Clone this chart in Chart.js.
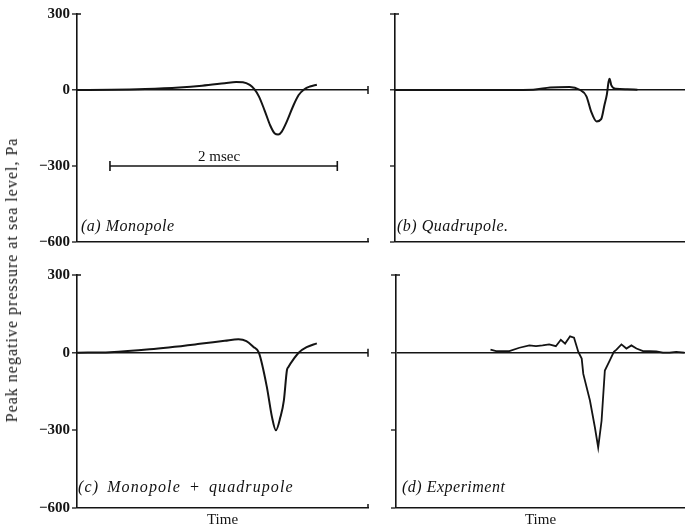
<!DOCTYPE html>
<html><head><meta charset="utf-8">
<script src="https://cdn.jsdelivr.net/npm/chart.js@4.4.1/dist/chart.umd.min.js"></script>
<style>
html,body{margin:0;padding:0;background:#fff;}
body{width:685px;height:530px;position:relative;overflow:hidden;font-family:"Liberation Serif","DejaVu Serif",serif;color:#111;}
canvas{position:absolute;}
.t{position:absolute;white-space:nowrap;font-size:15px;line-height:16px;}
.it{font-style:italic;font-size:16px;letter-spacing:0.5px;}
.yt{font-size:16px;letter-spacing:1px;}
</style></head><body>
<canvas id="ca" width="380" height="260" style="left:0;top:0"></canvas>
<canvas id="cb" width="365" height="260" style="left:320px;top:0"></canvas>
<canvas id="cc" width="380" height="270" style="left:0;top:260px"></canvas>
<canvas id="cd" width="365" height="270" style="left:320px;top:260px"></canvas>
<div class="t yt" style="left:12px;top:280px;transform:translate(-50%,-50%) rotate(-90deg);transform-origin:center;">Peak negative pressure at sea level, Pa</div>
<div class="t" style="left:198px;top:148px;">2 msec</div>
<div class="t it" style="left:81px;top:218px;">(a) Monopole</div>
<div class="t it" style="left:397px;top:218px;">(b) Quadrupole.</div>
<div class="t it" style="left:78px;top:479px;letter-spacing:1.1px;word-spacing:3px;">(c) Monopole + quadrupole</div>
<div class="t it" style="left:402px;top:479px;">(d) Experiment</div>
<script>
// ---- data (time in msec, pressure in Pa) ----
const yTickValues = [300, 0, -300, -600];
const yTickLabels = ['300', '0', '\u2212300', '\u2212600'];
const xMax = 2.56;

const monoT = [0, 0.3, 0.6, 0.9, 1.1, 1.3, 1.40, 1.46, 1.52, 1.56, 1.60, 1.65, 1.70, 1.74, 1.77, 1.80, 1.85, 1.90, 1.95, 2.00, 2.05, 2.11];
const monoP = [0, 1, 4, 10, 17, 27, 32, 31, 20, 3, -25, -80, -140, -172, -176, -165, -120, -65, -20, 3, 14, 21];

const quadT = [0, 0.6, 1.0, 1.22, 1.37, 1.54, 1.63, 1.69, 1.73, 1.78, 1.82, 1.85, 1.87, 1.886, 1.894, 1.91, 1.95, 2.05, 2.14];
const quadP = [0, 0, 0, 1, 10, 12, 1, -25, -83, -124, -115, -57, -18, 34, 44, 18, 5, 3, 1];

const comboT = [0, 0.29, 0.64, 1.08, 1.30, 1.42, 1.49, 1.55, 1.60, 1.67, 1.715, 1.75, 1.79, 1.82, 1.847, 1.86, 1.91, 1.95, 2.02, 2.11];
const comboP = [0, 2, 13, 34, 46, 52, 45, 23, 0, -132, -248, -300, -248, -184, -67, -55, -22, 0, 21, 36];

const expT = [0.837, 0.887, 1.004, 1.093, 1.181, 1.24, 1.298, 1.357, 1.416, 1.46, 1.498, 1.542, 1.577, 1.615, 1.645, 1.659, 1.718, 1.762, 1.791, 1.821, 1.85, 1.894, 1.93, 1.953, 1.997, 2.041, 2.085, 2.13, 2.188, 2.247, 2.306, 2.364, 2.423, 2.482, 2.555];
const expP = [12, 6, 6, 19, 28, 25, 28, 32, 25, 50, 35, 63, 58, 3, -23, -82, -185, -289, -366, -263, -69, -30, 3, 12, 32, 16, 28, 16, 6, 6, 5, 0, 0, 3, 0];

const scaleBarT = [0.29, 2.29];
const scaleBarP = [-300, -300];

// ---- helpers ----
const pts = (t, p) => t.map((v, i) => ({x: v, y: p[i]}));
const INK = '#141414';
const FONT = '"Liberation Serif","DejaVu Serif",serif';

const endTicks = {
  id: 'endTicks',
  afterDraw(chart, args, opts) {
    const {ctx, chartArea: a, scales} = chart;
    ctx.save();
    ctx.strokeStyle = INK;
    ctx.lineWidth = 1.5;
    ctx.beginPath();
    ctx.moveTo(a.left, a.top); ctx.lineTo(a.left + 4, a.top);
    if (opts.right) {
      const y0 = scales.y.getPixelForValue(0);
      ctx.moveTo(a.right, y0 - 4); ctx.lineTo(a.right, y0 + 4);
      ctx.moveTo(a.right, a.bottom); ctx.lineTo(a.right, a.bottom - 4);
    }
    ctx.stroke();
    ctx.restore();
  }
};

function makeChart(id, datasets, o) {
  return new Chart(document.getElementById(id), {
    type: 'line',
    data: {datasets},
    plugins: [endTicks],
    options: {
      responsive: false,
      animation: false,
      layout: {padding: {top: o.top, right: o.right, bottom: 0, left: 0}},
      plugins: {legend: {display: false}, tooltip: {enabled: false}, endTicks: {right: o.endTicks}},
      elements: {point: {radius: 0}},
      scales: {
        x: {
          type: 'linear', min: 0, max: xMax,
          afterFit: ax => { ax.height = o.xh; },
          border: {display: true, color: INK, width: 1.6},
          grid: {display: false},
          ticks: {display: false},
          title: {display: o.time, text: 'Time', color: INK, font: {family: FONT, size: 15}, padding: {top: 0, bottom: 1}}
        },
        y: {
          type: 'linear', min: -600, max: 300,
          afterBuildTicks: ax => { ax.ticks = yTickValues.map(v => ({value: v})); },
          afterFit: ax => { ax.width = o.yw; },
          border: {display: true, color: INK, width: 1.6},
          grid: {
            drawOnChartArea: true,
            color: c => (c.tick && c.tick.value === 0) ? INK : 'rgba(0,0,0,0)',
            lineWidth: c => (c.tick && c.tick.value === 0) ? 1.6 : 0,
            tickColor: INK, tickLength: 5, tickWidth: 1.3
          },
          ticks: {
            display: o.labels,
            color: INK, padding: 2,
            font: {family: FONT, size: 15, weight: 'bold'},
            callback: v => yTickLabels[yTickValues.indexOf(v)]
          }
        }
      }
    }
  });
}

const smooth = {borderColor: INK, borderWidth: 2, pointRadius: 0, fill: false, cubicInterpolationMode: 'monotone'};

makeChart('ca', [
  Object.assign({data: pts(monoT, monoP)}, smooth),
  {data: pts(scaleBarT, scaleBarP), borderColor: INK, borderWidth: 1.6, pointStyle: 'line', rotation: 90, pointRadius: 5, pointBorderWidth: 1.6, pointBorderColor: INK, tension: 0}
], {top: 14, right: 12, xh: 18, yw: 77, time: false, labels: true, endTicks: true});

makeChart('cb', [
  Object.assign({data: pts(quadT, quadP)}, smooth)
], {top: 14, right: 0, xh: 18, yw: 75, time: false, labels: false, endTicks: false});

makeChart('cc', [
  Object.assign({data: pts(comboT, comboP)}, smooth)
], {top: 15, right: 12, xh: 22, yw: 77, time: true, labels: true, endTicks: true});

makeChart('cd', [
  {data: pts(expT, expP), borderColor: INK, borderWidth: 1.8, pointRadius: 0, fill: false, tension: 0}
], {top: 15, right: 0, xh: 22, yw: 76, time: true, labels: false, endTicks: false});
</script>
</body></html>
